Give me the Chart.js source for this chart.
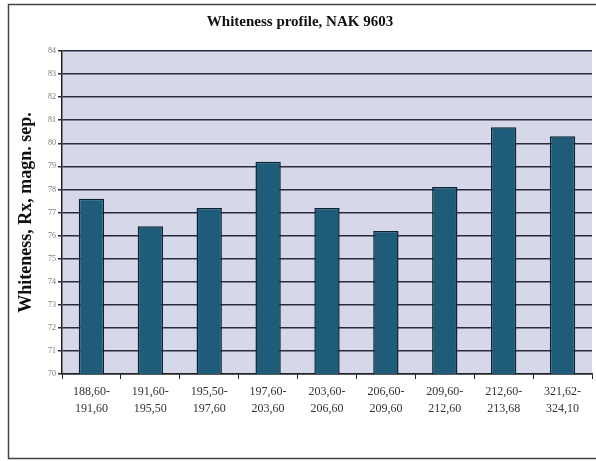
<!DOCTYPE html>
<html>
<head>
<meta charset="utf-8">
<script src="https://cdn.jsdelivr.net/npm/chart.js@4.4.1/dist/chart.umd.min.js"></script>
<style>
  html, body { margin: 0; padding: 0; background: #fff; }
  #wrap { width: 596px; height: 461px; }
</style>
</head>
<body>
<div id="wrap"><canvas id="chart" width="596" height="461"></canvas></div>
<script>
// ranges (magn. sep.) along the x axis
const categories = [
  ['188,60-', '191,60'],
  ['191,60-', '195,50'],
  ['195,50-', '197,60'],
  ['197,60-', '203,60'],
  ['203,60-', '206,60'],
  ['206,60-', '209,60'],
  ['209,60-', '212,60'],
  ['212,60-', '213,68'],
  ['321,62-', '324,10']
];
const whiteness = [77.6, 76.4, 77.2, 79.2, 77.2, 76.2, 78.1, 80.7, 80.3];
const yMin = 70;
const yMax = 84;

// plot background + outer frame
const frame = {
  id: 'frame',
  beforeDraw(chart) {
    const ctx = chart.ctx;
    const a = chart.chartArea;
    ctx.save();
    ctx.fillStyle = '#d6d8ea';
    ctx.fillRect(a.left, a.top, a.right - a.left, a.bottom - a.top);
    ctx.strokeStyle = '#444';
    ctx.lineWidth = 1.5;
    ctx.strokeRect(8.5, 4.5, 620, 454);
    ctx.restore();
  }
};

const ctx = document.getElementById('chart').getContext('2d');
new Chart(ctx, {
  type: 'bar',
  data: {
    labels: categories,
    datasets: [{
      data: whiteness,
      backgroundColor: '#1f5c79',
      borderColor: '#0a2330',
      borderWidth: 1.5,
      categoryPercentage: 1,
      barPercentage: 0.43
    }]
  },
  options: {
    responsive: false,
    animation: false,
    layout: { padding: { left: 8, right: 4, top: 0, bottom: 0 } },
    plugins: {
      legend: { display: false },
      tooltip: { enabled: false },
      title: {
        display: true,
        text: 'Whiteness profile, NAK 9603',
        color: '#111',
        font: { family: 'Liberation Serif', size: 15, weight: 'bold' },
        padding: { top: 13, bottom: 20 }
      }
    },
    scales: {
      x: {
        grid: {
          offset: true,
          drawOnChartArea: false,
          drawTicks: true,
          tickLength: 5,
          color: '#222'
        },
        border: { color: '#222', width: 1.5 },
        ticks: {
          color: '#333',
          padding: 4,
          maxRotation: 0,
          font: { family: 'Liberation Serif', size: 12, lineHeight: 1.45 }
        },
        afterFit(scale) { scale.height = 87; }
      },
      y: {
        min: yMin,
        max: yMax,
        grid: {
          color: '#2a2a3a',
          lineWidth: 1.5,
          tickLength: 4
        },
        border: { color: '#222', width: 1.5 },
        ticks: {
          stepSize: 1,
          color: '#777',
          padding: 2,
          font: { family: 'Liberation Serif', size: 8 }
        },
        title: {
          display: true,
          text: 'Whiteness, Rx, magn. sep.',
          color: '#111',
          padding: { top: 8, bottom: 0 },
          font: { family: 'Liberation Serif', size: 18, weight: 'bold' }
        },
        afterFit(scale) { scale.width = 54; }
      }
    }
  },
  plugins: [frame]
});
</script>
</body>
</html>
